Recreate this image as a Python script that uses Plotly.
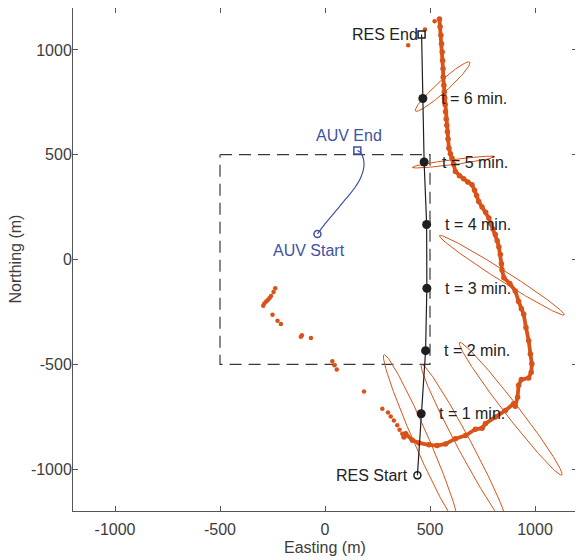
import numpy as np
import plotly.graph_objects as go

# --- data (metres) ---
box_x = [-500, 500, 500, -500, -500]
box_y = [500, 500, -500, -500, 500]

auv_x = [-36, 0, 50, 100, 140, 170, 185, 183, 170, 154]
auv_y = [122, 170, 230, 290, 340, 390, 440, 480, 510, 520]

res_x = [440, 458, 479, 485, 484, 472, 466, 460]
res_y = [-1030, -736, -435, -137, 167, 465, 768, 1074]
t_labels = ["t = 1 min.", "t = 2 min.", "t = 3 min.", "t = 4 min.", "t = 5 min.", "t = 6 min."]

tick_vals = [-1000, -500, 0, 500, 1000]
tick_text = ["-1000", "-500", "0", "500", "1000"]

track_x = [545, 548, 552, 555, 558, 560, 562, 563, 566, 568, 570, 572, 574, 577, 580,
           583, 586, 590, 597, 605, 612, 621, 640, 660, 680, 700, 712, 722, 732, 748,
           765, 780, 790, 800, 811, 820, 828, 835, 840, 843, 852, 880, 906, 922, 935,
           946, 957, 970, 978, 985, 982, 970, 935, 922, 917, 906, 898, 859, 811, 764,
           748, 716, 669, 621, 574, 534, 495, 447, 416, 384, 376]
track_y = [1148, 1110, 1070, 1030, 990, 950, 910, 870, 832, 800, 770, 740, 705, 670, 640,
           610, 575, 531, 505, 483, 455, 420, 400, 385, 370, 357, 330, 305, 277, 250,
           225, 198, 170, 145, 119, 90, 60, 24, -20, -50, -87, -115, -150, -200, -235,
           -261, -324, -388, -451, -498, -538, -565, -573, -600, -657, -700, -688, -720, -752, -783,
           -805, -810, -840, -855, -880, -888, -884, -875, -863, -831, -847]

stray_x = [522, 476, 396, 368, 355, 344, 328, 313, 300, 273, 186, 56, 45, 35, -67, -110,
           -115, -210, -226, -250, -294, -289, -280, -273, -265, -257, -245, -237]
stray_y = [1137, 1098, 1022, -831, -812, -791, -768, -749, -730, -712, -630, -525, -505, -486,
           -375, -361, -368, -308, -292, -264, -221, -210, -200, -194, -185, -174, -155, -137]

# error ellipses: centre, semi-axes, orientation (deg)
ell_cx = [455, 662, 884, 842, 612, 560]
ell_cy = [-854, -881, -712, -75, 465, 825]
ell_a = [436, 430, 399, 352, 198, 174]
ell_b = [36, 34, 33, 25, 12, 26]
ell_ang = [-66.5, -62, -52.4, -32.5, 7.4, 42]

ORANGE = "#D95319"
BLUE = "#3F51A3"
BLACK = "#1f1f1f"
AXIS_TXT = "#3c3c3c"
FONT = "Liberation Sans, Arial, sans-serif"

fig = go.Figure()

fig.add_trace(go.Scatter(x=box_x, y=box_y, mode="lines",
                         line=dict(color="#3a3a3a", width=1.2, dash="12px,7px")))

th = np.linspace(0, 2 * np.pi, 241)
for cx, cy, a, b, ang in zip(ell_cx, ell_cy, ell_a, ell_b, ell_ang):
    r = np.deg2rad(ang)
    ex = cx + a * np.cos(th) * np.cos(r) - b * np.sin(th) * np.sin(r)
    ey = cy + a * np.cos(th) * np.sin(r) + b * np.sin(th) * np.cos(r)
    fig.add_trace(go.Scatter(x=ex, y=ey, mode="lines", line=dict(color=ORANGE, width=1)))

fig.add_trace(go.Scatter(x=track_x, y=track_y, mode="lines+markers",
                         line=dict(color=ORANGE, width=3.8),
                         marker=dict(color=ORANGE, size=5.5)))
fig.add_trace(go.Scatter(x=stray_x, y=stray_y, mode="markers",
                         marker=dict(color=ORANGE, size=4.5)))

# AUV path
fig.add_trace(go.Scatter(x=auv_x, y=auv_y, mode="lines", line=dict(color=BLUE, width=1.2,
                                                                    shape="spline")))
fig.add_trace(go.Scatter(x=auv_x[:1], y=auv_y[:1], mode="markers",
                         marker=dict(symbol="circle-open", color=BLUE, size=7, line=dict(width=1.5))))
fig.add_trace(go.Scatter(x=auv_x[-1:], y=auv_y[-1:], mode="markers",
                         marker=dict(symbol="square-open", color=BLUE, size=7, line=dict(width=1.5))))

# RES path
fig.add_trace(go.Scatter(x=res_x, y=res_y, mode="lines", line=dict(color=BLACK, width=1.2)))
fig.add_trace(go.Scatter(x=res_x[1:-1], y=res_y[1:-1], mode="markers",
                         marker=dict(color=BLACK, size=9)))
fig.add_trace(go.Scatter(x=res_x[:1], y=res_y[:1], mode="markers",
                         marker=dict(symbol="circle-open", color=BLACK, size=7, line=dict(width=1.5))))
fig.add_trace(go.Scatter(x=res_x[-1:], y=res_y[-1:], mode="markers",
                         marker=dict(symbol="square-open", color=BLACK, size=7, line=dict(width=1.5))))

ann = []
for x, y, lab in zip(res_x[1:-1], res_y[1:-1], t_labels):
    ann.append(dict(x=x, y=y, text=lab, xanchor="left", yanchor="middle", xshift=16,
                    font=dict(color="#222222")))
ann.append(dict(x=res_x[0], y=res_y[0], text="RES Start", xanchor="right", yanchor="middle",
                xshift=-7, font=dict(color="#222222")))
ann.append(dict(x=res_x[-1], y=res_y[-1], text="RES End", xanchor="right", yanchor="middle",
                xshift=-2, font=dict(color="#222222")))
ann.append(dict(x=auv_x[-1], y=auv_y[-1], text="AUV End", xanchor="center", yanchor="bottom",
                xshift=-8, yshift=5, font=dict(color=BLUE)))
ann.append(dict(x=auv_x[0], y=auv_y[0], text="AUV Start", xanchor="center", yanchor="top",
                xshift=-8, yshift=-6, font=dict(color=BLUE)))
for a_ in ann:
    a_.update(showarrow=False, xref="x", yref="y")

# axis titles
ann.append(dict(text="Easting (m)", x=0.5, y=0, xref="paper", yref="paper",
                xanchor="center", yanchor="middle", yshift=-36, showarrow=False,
                font=dict(color=AXIS_TXT)))
ann.append(dict(text="Northing (m)", x=0, y=0.5, xref="paper", yref="paper",
                xanchor="center", yanchor="middle", xshift=-58, textangle=-90,
                showarrow=False, font=dict(color=AXIS_TXT)))

axis_style = dict(range=[-1200, 1200], tickvals=tick_vals, ticktext=tick_text,
                  ticks="inside", ticklen=5, tickcolor="#555555", showline=True,
                  linecolor="#555555", linewidth=1, mirror="ticks", showgrid=False,
                  zeroline=False, automargin=False,
                  tickfont=dict(size=16, color=AXIS_TXT))

# page body adds an 8px offset, so the figure is sized to fit the window
fig.update_layout(
    width=575, height=552,
    margin=dict(l=65, r=6, t=0, b=49),
    plot_bgcolor="white", paper_bgcolor="white",
    showlegend=False,
    font=dict(family=FONT, size=16),
    annotations=ann,
    xaxis=dict(ticklabelstandoff=4, **axis_style),
    yaxis=dict(ticklabelstandoff=-3, **axis_style),
)

fig.write_html("out.html")
